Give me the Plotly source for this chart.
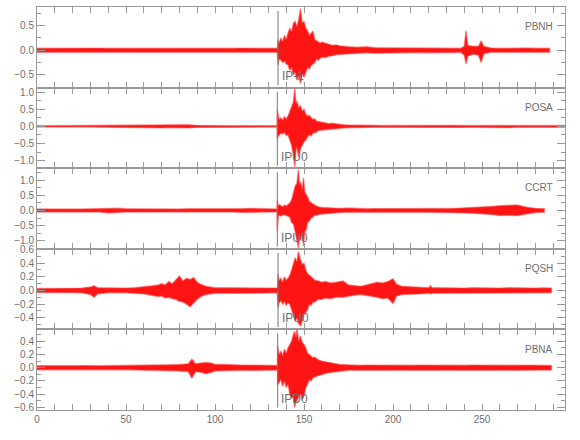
import plotly.graph_objects as go
from plotly.subplots import make_subplots

stations = ["PBNH", "POSA", "CCRT", "PQSH", "PBNA"]
pick_labels = ["IP-1", "IPU0", "IPU0", "IPU0", "IPD0"]
pick_times = [135.4, 135.0, 135.0, 135.4, 135.2]
y_ranges = [[-0.76, 0.88], [-1.22, 1.13], [-1.27, 1.40], [-0.57, 0.61], [-0.64, 0.58]]
y_dticks = [0.5, 0.5, 0.5, 0.2, 0.2]
x_range = [0, 296.6]

# ---- PBNH envelope (time s, upper, lower) ----
pbnh_t = [0, 5, 10, 15, 20, 25, 30, 35, 40, 45, 50, 55, 60, 65, 70, 75, 80, 85, 90, 95, 100, 105, 110, 115, 120, 125, 130, 135.0,
          135.4, 136, 137, 138, 139, 140, 141, 142, 143, 144, 145, 146, 147, 148, 149, 150, 151, 152, 153, 154, 155, 156, 157, 158, 159, 160,
          162, 164, 166, 168, 170, 172, 175,
          180, 185, 190, 195, 200, 205, 210, 215, 220, 225, 230, 235,
          238, 240, 241, 242, 245, 248, 249.5, 251,
          255, 260, 265, 270, 275, 280, 285, 288]
pbnh_hi = [0.040, 0.042, 0.038, 0.045, 0.040, 0.043, 0.039, 0.044, 0.041, 0.040, 0.045, 0.038, 0.042, 0.040, 0.044, 0.039, 0.043, 0.041, 0.040, 0.045, 0.038, 0.042, 0.040, 0.044, 0.041, 0.039, 0.042, 0.040,
           0.22, 0.15, 0.25, 0.18, 0.30, 0.22, 0.35, 0.45, 0.38, 0.55, 0.59, 0.48, 0.62, 0.85, 0.55, 0.59, 0.45, 0.40, 0.30, 0.35, 0.39, 0.22, 0.20, 0.18, 0.15, 0.17,
           0.14, 0.12, 0.10, 0.11, 0.09, 0.08, 0.07,
           0.06, 0.07, 0.05, 0.05, 0.045, 0.05, 0.045, 0.05, 0.045, 0.05, 0.045, 0.045,
           0.04, 0.08, 0.40, 0.10, 0.08, 0.08, 0.19, 0.08,
           0.045, 0.04, 0.045, 0.04, 0.045, 0.04, 0.045, 0.04]
pbnh_lo = [-0.040, -0.041, -0.043, -0.039, -0.044, -0.040, -0.042, -0.038, -0.045, -0.041, -0.040, -0.043, -0.039, -0.044, -0.040, -0.042, -0.038, -0.045, -0.041, -0.040, -0.043, -0.039, -0.044, -0.040, -0.042, -0.041, -0.040, -0.040,
           -0.30, -0.18, -0.20, -0.25, -0.22, -0.28, -0.30, -0.41, -0.35, -0.50, -0.45, -0.61, -0.52, -0.68, -0.48, -0.55, -0.45, -0.35, -0.38, -0.31, -0.28, -0.25, -0.18, -0.20, -0.17, -0.14,
           -0.15, -0.12, -0.11, -0.09, -0.08, -0.09, -0.07,
           -0.06, -0.05, -0.06, -0.05, -0.05, -0.045, -0.05, -0.045, -0.05, -0.045, -0.05, -0.045,
           -0.04, -0.10, -0.28, -0.12, -0.08, -0.10, -0.25, -0.07,
           -0.04, -0.045, -0.04, -0.045, -0.04, -0.045, -0.04, -0.04]

# ---- POSA ----
posa_t = [0, 5, 10, 15, 20, 25, 30, 35, 40, 45, 50, 55, 60, 65, 70, 75, 80, 85, 90, 95, 100, 105, 110, 115, 120, 125, 130, 134.8,
          135, 136, 137, 138, 139, 140, 141, 142, 143, 144, 144.8, 145.5, 146, 147, 148, 149, 150, 151, 152, 153, 154, 155, 156, 157, 158,
          160, 162, 164, 166, 168, 170, 172, 175,
          180, 185, 190, 195, 200, 205, 210, 215, 220, 225, 230, 235, 240, 245, 250, 255, 260, 265, 270, 275, 280, 285, 290, 295, 296.5]
posa_hi = [0.020, 0.022, 0.020, 0.021, 0.019, 0.022, 0.020, 0.021, 0.020, 0.022, 0.030, 0.035, 0.030, 0.040, 0.045, 0.040, 0.035, 0.045, 0.030, 0.022, 0.020, 0.021, 0.020, 0.022, 0.020, 0.021, 0.020, 0.020,
           0.47, 0.20, 0.25, 0.18, 0.28, 0.22, 0.30, 0.45, 0.60, 0.70, 1.12, 0.65, 0.75, 0.55, 0.60, 0.45, 0.50, 0.35, 0.30, 0.32, 0.25, 0.20, 0.22, 0.15, 0.14,
           0.12, 0.10, 0.08, 0.09, 0.07, 0.06, 0.05, 0.04,
           0.030, 0.028, 0.030, 0.027, 0.030, 0.028, 0.030, 0.027, 0.028, 0.030, 0.027, 0.030, 0.028, 0.030, 0.028, 0.030, 0.028, 0.040, 0.030, 0.028, 0.030, 0.027, 0.028, 0.030, 0.028]
posa_lo = [-0.020, -0.021, -0.022, -0.020, -0.021, -0.020, -0.022, -0.020, -0.021, -0.020, -0.030, -0.035, -0.030, -0.040, -0.045, -0.040, -0.035, -0.045, -0.030, -0.021, -0.020, -0.022, -0.020, -0.021, -0.020, -0.022, -0.020, -0.020,
           -0.36, -0.25, -0.20, -0.22, -0.18, -0.27, -0.25, -0.40, -0.55, -0.85, -1.18, -0.70, -0.60, -0.90, -0.65, -0.55, -0.45, -0.40, -0.30, -0.25, -0.28, -0.20, -0.18, -0.17, -0.12,
           -0.10, -0.10, -0.09, -0.07, -0.06, -0.06, -0.05, -0.04,
           -0.028, -0.030, -0.027, -0.030, -0.028, -0.030, -0.027, -0.030, -0.028, -0.027, -0.030, -0.028, -0.030, -0.028, -0.030, -0.027, -0.030, -0.038, -0.028, -0.030, -0.027, -0.030, -0.028, -0.027, -0.028]

# ---- CCRT ----
ccrt_t = [0, 5, 10, 15, 20, 25, 30, 35, 40, 45, 50, 55, 60, 65, 70, 75, 80, 85, 90, 95, 100, 105, 110, 115, 120, 125, 130, 134.8,
          135, 135.6, 136, 137, 138, 139, 140, 141, 142, 143, 144, 145, 146, 146.8, 147.5, 148, 149, 149.7, 150.5, 151, 152, 153, 154, 155, 156, 157, 158,
          160, 162, 165, 170, 175,
          180, 185, 190, 195, 200, 205, 210, 215, 220, 225, 230, 235, 240, 245, 250, 255, 260, 265, 270, 275, 280, 285]
ccrt_hi = [0.050, 0.055, 0.050, 0.052, 0.055, 0.050, 0.053, 0.055, 0.080, 0.075, 0.055, 0.050, 0.052, 0.055, 0.050, 0.053, 0.050, 0.055, 0.052, 0.050, 0.055, 0.052, 0.050, 0.060, 0.070, 0.065, 0.055, 0.050,
           0.34, 0.15, 0.20, 0.15, 0.12, 0.18, 0.15, 0.20, 0.25, 0.35, 0.55, 0.80, 0.90, 1.36, 0.85, 0.95, 0.70, 1.08, 0.60, 0.55, 0.45, 0.30, 0.25, 0.20, 0.18, 0.15, 0.12,
           0.10, 0.09, 0.08, 0.07, 0.08,
           0.060, 0.058, 0.062, 0.060, 0.080, 0.060, 0.062, 0.058, 0.060, 0.062, 0.065, 0.070, 0.080, 0.090, 0.100, 0.130, 0.160, 0.170, 0.180, 0.110, 0.070, 0.060]
ccrt_lo = [-0.050, -0.052, -0.055, -0.050, -0.053, -0.055, -0.050, -0.052, -0.085, -0.070, -0.050, -0.055, -0.053, -0.050, -0.052, -0.055, -0.050, -0.052, -0.055, -0.050, -0.053, -0.050, -0.055, -0.065, -0.070, -0.060, -0.050, -0.050,
           -0.68, -0.20, -0.15, -0.18, -0.15, -0.14, -0.17, -0.20, -0.22, -0.40, -0.45, -0.70, -0.95, -1.25, -0.80, -1.00, -0.75, -1.19, -0.65, -0.70, -0.40, -0.35, -0.25, -0.22, -0.15, -0.17, -0.13,
           -0.11, -0.10, -0.09, -0.07, -0.06,
           -0.060, -0.062, -0.058, -0.060, -0.075, -0.062, -0.058, -0.060, -0.062, -0.060, -0.065, -0.070, -0.080, -0.090, -0.100, -0.130, -0.170, -0.160, -0.170, -0.110, -0.070, -0.060]

# ---- PQSH ----
pqsh_t = [0, 5, 10, 15, 20, 25, 30, 32, 34, 40, 45, 50, 55,
          60, 62, 65, 68, 70, 72, 74, 76, 78, 80, 82, 84, 86, 88, 90, 92, 95,
          100, 105, 110, 115, 120, 125, 130, 135.0,
          135.4, 136, 137, 138, 139, 140, 141, 142, 143, 144, 145, 146, 146.8, 148, 149, 150, 151, 152, 153, 154, 155, 156,
          158, 160, 162, 165, 168, 172, 175, 178, 182, 185, 188, 191, 194, 197, 200, 202, 205, 210, 215, 220, 221, 222, 225,
          230, 235, 240, 245, 250, 255, 260, 265, 270, 275, 280, 285, 289]
pqsh_hi = [0.030, 0.032, 0.030, 0.033, 0.030, 0.035, 0.050, 0.070, 0.040, 0.035, 0.033, 0.035, 0.040,
           0.050, 0.060, 0.070, 0.080, 0.100, 0.080, 0.130, 0.100, 0.150, 0.210, 0.140, 0.180, 0.160, 0.190, 0.120, 0.090, 0.060,
           0.040, 0.040, 0.038, 0.040, 0.042, 0.040, 0.040, 0.035,
           0.24, 0.15, 0.18, 0.12, 0.20, 0.15, 0.18, 0.22, 0.30, 0.40, 0.48, 0.42, 0.57, 0.45, 0.38, 0.40, 0.30, 0.25, 0.22, 0.20, 0.18, 0.15,
           0.14, 0.12, 0.13, 0.11, 0.12, 0.14, 0.08, 0.07, 0.06, 0.08, 0.10, 0.12, 0.11, 0.13, 0.17, 0.09, 0.06, 0.05, 0.05, 0.04, 0.07, 0.04, 0.04,
           0.035, 0.038, 0.035, 0.040, 0.035, 0.038, 0.035, 0.040, 0.035, 0.038, 0.035, 0.038, 0.035]
pqsh_lo = [-0.030, -0.031, -0.033, -0.030, -0.032, -0.035, -0.060, -0.100, -0.050, -0.035, -0.034, -0.035, -0.040,
           -0.050, -0.060, -0.070, -0.090, -0.080, -0.110, -0.100, -0.120, -0.130, -0.160, -0.170, -0.200, -0.240, -0.180, -0.130, -0.090, -0.060,
           -0.040, -0.038, -0.040, -0.042, -0.040, -0.038, -0.040, -0.035,
           -0.26, -0.18, -0.15, -0.20, -0.16, -0.22, -0.18, -0.20, -0.28, -0.35, -0.45, -0.40, -0.48, -0.52, -0.45, -0.35, -0.32, -0.28, -0.20, -0.22, -0.17, -0.17,
           -0.13, -0.13, -0.11, -0.12, -0.10, -0.10, -0.08, -0.07, -0.06, -0.08, -0.09, -0.10, -0.12, -0.11, -0.19, -0.08, -0.06, -0.05, -0.05, -0.04, -0.05, -0.04, -0.04,
           -0.038, -0.035, -0.040, -0.035, -0.038, -0.035, -0.040, -0.035, -0.038, -0.035, -0.040, -0.035, -0.035]

# ---- PBNA ----
pbna_t = [0, 5, 10, 15, 20, 25, 30, 35, 40, 45, 50, 55, 60, 65,
          70, 75, 80, 85, 87, 89, 92, 95, 98, 100, 105, 110, 115, 120, 125, 130, 135.0,
          135.2, 136, 137, 138, 139, 140, 141, 142, 143, 144, 144.8, 145.5, 146, 147, 148, 149, 150, 151, 152, 153, 154, 155, 156,
          158, 160, 163, 166, 170,
          175, 180, 185, 190, 195, 200, 205, 210, 215, 220, 225, 230, 235, 240, 245, 250, 255, 260, 265, 270, 275, 280, 285, 289]
pbna_hi = [0.030, 0.032, 0.030, 0.031, 0.033, 0.030, 0.032, 0.030, 0.031, 0.033, 0.030, 0.032, 0.035, 0.035,
           0.040, 0.045, 0.050, 0.060, 0.130, 0.060, 0.070, 0.080, 0.070, 0.050, 0.050, 0.040, 0.040, 0.040, 0.042, 0.040, 0.035,
           0.33, 0.20, 0.25, 0.18, 0.28, 0.22, 0.30, 0.35, 0.40, 0.50, 0.55, 0.45, 0.60, 0.40, 0.48, 0.38, 0.35, 0.30, 0.22, 0.20, 0.18, 0.15, 0.16,
           0.12, 0.10, 0.08, 0.07, 0.05,
           0.040, 0.038, 0.040, 0.038, 0.040, 0.038, 0.040, 0.038, 0.040, 0.038, 0.040, 0.038, 0.040, 0.038, 0.040, 0.038, 0.040, 0.038, 0.040, 0.038, 0.040, 0.038, 0.040, 0.035]
pbna_lo = [-0.030, -0.031, -0.032, -0.030, -0.031, -0.030, -0.033, -0.030, -0.032, -0.030, -0.031, -0.033, -0.035, -0.035,
           -0.040, -0.045, -0.050, -0.060, -0.160, -0.060, -0.070, -0.090, -0.070, -0.050, -0.050, -0.040, -0.040, -0.042, -0.040, -0.040, -0.035,
           -0.26, -0.22, -0.18, -0.28, -0.20, -0.30, -0.25, -0.40, -0.45, -0.45, -0.60, -0.52, -0.50, -0.45, -0.40, -0.48, -0.43, -0.30, -0.25, -0.18, -0.20, -0.15, -0.14,
           -0.12, -0.10, -0.08, -0.07, -0.05,
           -0.038, -0.040, -0.038, -0.040, -0.038, -0.040, -0.038, -0.040, -0.038, -0.040, -0.038, -0.040, -0.038, -0.040, -0.038, -0.040, -0.038, -0.040, -0.038, -0.040, -0.038, -0.040, -0.038, -0.035]

traces = [(pbnh_t, pbnh_hi, pbnh_lo), (posa_t, posa_hi, posa_lo), (ccrt_t, ccrt_hi, ccrt_lo),
          (pqsh_t, pqsh_hi, pqsh_lo), (pbna_t, pbna_hi, pbna_lo)]

FONT = "Liberation Sans, Arial, sans-serif"
TXT = "#6e6e6e"
LINE = "#9a9a9a"

fig = make_subplots(rows=5, cols=1, shared_xaxes=True, vertical_spacing=0)

for i, (t, hi, lo) in enumerate(traces):
    fig.add_trace(go.Scatter(x=list(t) + list(t)[::-1], y=list(hi) + list(lo)[::-1],
                             mode="lines", fill="toself", fillcolor="rgba(255,0,0,0.92)",
                             line=dict(color="rgba(255,70,70,0.55)", width=1.4), hoverinfo="skip",
                             showlegend=False), row=i + 1, col=1)

for i in range(5):
    r = i + 1
    fig.update_yaxes(row=r, col=1, range=y_ranges[i], dtick=y_dticks[i], tick0=0,
                     tickformat=".1f", ticks="inside", ticklen=8, tickcolor=LINE,
                     minor=dict(dtick=y_dticks[i] / 2, ticks="inside", ticklen=4, tickcolor=LINE),
                     showline=True, linecolor=LINE, linewidth=1, mirror="ticks",
                     showgrid=False, zeroline=False,
                     tickfont=dict(family=FONT, size=10, color=TXT))
    fig.update_xaxes(row=r, col=1, range=x_range, dtick=50, tick0=0,
                     ticks="inside", ticklen=6, tickcolor=LINE,
                     minor=dict(dtick=10, ticks="inside", ticklen=6, tickcolor=LINE),
                     showline=True, linecolor=LINE, linewidth=1, mirror="ticks",
                     showgrid=False, zeroline=False, showticklabels=(r == 5),
                     tickfont=dict(family=FONT, size=10, color=TXT))
    xr = "x" if r == 1 else f"x{r}"
    yr = "y" if r == 1 else f"y{r}"
    fig.add_shape(type="line", xref=xr, yref=f"{yr} domain", x0=pick_times[i], x1=pick_times[i],
                  y0=0.03, y1=0.95, line=dict(color="#777777", width=1))
    fig.add_annotation(xref=xr, yref=f"{yr} domain", x=pick_times[i] + 1.0, y=0.14,
                       text=pick_labels[i], showarrow=False, xanchor="left", yanchor="middle",
                       font=dict(family=FONT, size=12, color=TXT))
    fig.add_annotation(xref=f"{xr} domain", yref=f"{yr} domain", x=0.981, y=0.755,
                       text=stations[i], showarrow=False, xanchor="right", yanchor="middle",
                       font=dict(family=FONT, size=10, color=TXT))

fig.update_layout(width=580, height=440, margin=dict(l=37, r=15, t=2, b=30),
                  paper_bgcolor="white", plot_bgcolor="white")

fig.write_html("out.html", config={"displayModeBar": False},
               post_script="document.body.style.margin='0';document.body.style.padding='0';")
